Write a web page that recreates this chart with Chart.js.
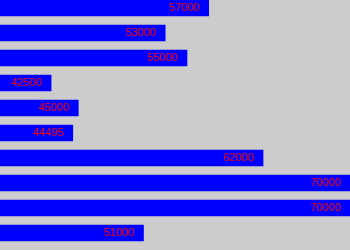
<!DOCTYPE html>
<html>
<head>
<meta charset="utf-8">
<script src="https://cdn.jsdelivr.net/npm/chart.js@4/dist/chart.umd.min.js"></script>
<style>
html,body{margin:0;padding:0;background:#cccccc;}
#wrap{position:relative;width:350px;height:250px;}
</style>
</head>
<body>
<div id="wrap"><canvas id="c" width="350" height="250"></canvas></div>
<script>
const categories = [0,1,2,3,4,5,6,7,8,9];
const values = [57000, 53000, 55000, 42500, 45000, 44495, 62000, 70000, 70000, 51000];
const labels = ["57000","53000","55000","42500","45000","44495","62000","70000","70000","51000"];

const valueLabels = {
  id: 'valueLabels',
  afterDatasetsDraw(chart) {
    const ctx = chart.ctx;
    const meta = chart.getDatasetMeta(0);
    ctx.save();
    ctx.fillStyle = '#ff0000';
    ctx.font = '11px "Liberation Sans", Arial, sans-serif';
    ctx.textAlign = 'right';
    ctx.textBaseline = 'middle';
    meta.data.forEach((bar, i) => {
      ctx.fillText(labels[i], bar.x - 9, bar.y);
    });
    ctx.restore();
  }
};

new Chart(document.getElementById('c'), {
  type: 'bar',
  data: {
    datasets: [{
      data: categories.map((c, i) => ({ x: values[i], y: c })),
      backgroundColor: '#0000ff',
      borderWidth: 0,
      barThickness: 16
    }]
  },
  options: {
    indexAxis: 'y',
    responsive: false,
    animation: false,
    layout: { padding: 0 },
    plugins: { legend: { display: false }, tooltip: { enabled: false } },
    scales: {
      x: { type: 'linear', display: false, min: 37800, max: 70000 },
      y: { type: 'linear', display: false, reverse: true, offset: false, min: -0.32, max: 9.68 }
    }
  },
  plugins: [valueLabels]
});
</script>
</body>
</html>
